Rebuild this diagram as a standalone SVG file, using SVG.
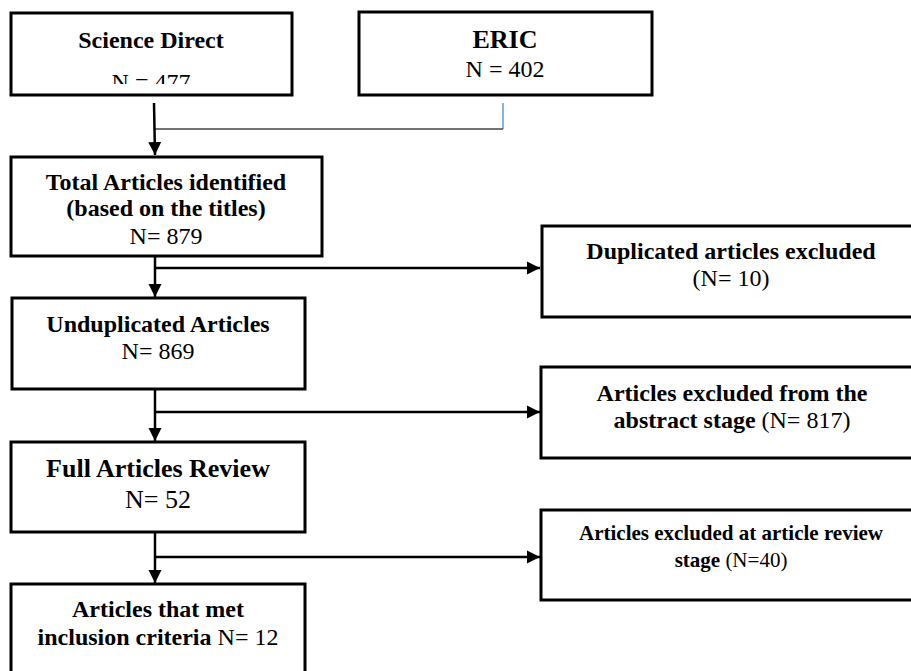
<svg xmlns="http://www.w3.org/2000/svg" width="911" height="671" viewBox="0 0 911 671">
<style>
  .box { fill: #ffffff; stroke: #000000; stroke-width: 3; }
  .t { font-family: "Liberation Serif", "Times New Roman", serif; font-size: 24px; fill: #000000; text-anchor: middle; }
  .b { font-weight: bold; }
  .n { font-weight: normal; }
  .conn { fill: none; stroke: #000000; stroke-width: 2.5; }
</style>
<defs>
  <marker id="arr" viewBox="0 0 10 10" refX="10" refY="5" markerWidth="5.2" markerHeight="6" markerUnits="strokeWidth" orient="auto">
    <path d="M0,0 L10,5 L0,10 z" fill="#000000"/>
  </marker>
  <clipPath id="clipSD"><rect x="10" y="12" width="282" height="72"/></clipPath>
</defs>
<rect width="911" height="671" fill="#ffffff"/>

<g id="connectors">
  <line x1="503" y1="103" x2="503" y2="129" stroke="#5b9bd5" stroke-width="1.5"/>
  <line x1="155" y1="129" x2="503" y2="129" stroke="#444444" stroke-width="1.5"/>
  <line class="conn" x1="154" y1="103" x2="155" y2="155" marker-end="url(#arr)"/>
  <line class="conn" x1="155" y1="257" x2="155" y2="297" marker-end="url(#arr)"/>
  <line class="conn" x1="155" y1="268" x2="540" y2="268" marker-end="url(#arr)"/>
  <line class="conn" x1="155" y1="390" x2="155" y2="441" marker-end="url(#arr)"/>
  <line class="conn" x1="155" y1="412" x2="540" y2="412" marker-end="url(#arr)"/>
  <line class="conn" x1="155" y1="533" x2="155" y2="583" marker-end="url(#arr)"/>
  <line class="conn" x1="155" y1="557" x2="540" y2="557" marker-end="url(#arr)"/>
</g>

<g id="science-direct">
  <rect class="box" x="11" y="13" width="281" height="82"/>
  <text class="t b" x="151" y="48">Science Direct</text>
  <text class="t n" x="151" y="90" clip-path="url(#clipSD)">N = 477</text>
</g>

<g id="eric">
  <rect class="box" x="359" y="12" width="293" height="83"/>
  <text class="t b" x="505" y="48" style="font-size:26px">ERIC</text>
  <text class="t n" x="505" y="77">N = 402</text>
</g>

<g id="total">
  <rect class="box" x="11" y="157" width="311" height="99"/>
  <text class="t b" x="166" y="190">Total Articles identified</text>
  <text class="t b" x="166" y="216">(based on the titles)</text>
  <text class="t n" x="166" y="244">N= 879</text>
</g>

<g id="duplicated">
  <rect class="box" x="542" y="226" width="390" height="91"/>
  <text class="t b" x="731" y="259">Duplicated articles excluded</text>
  <text class="t n" x="731" y="286">(N= 10)</text>
</g>

<g id="unduplicated">
  <rect class="box" x="12" y="298" width="293" height="91"/>
  <text class="t b" x="158" y="332">Unduplicated Articles</text>
  <text class="t n" x="158" y="359">N= 869</text>
</g>

<g id="abstract-excluded">
  <rect class="box" x="541" y="367" width="390" height="91"/>
  <text class="t b" x="732" y="401">Articles excluded from the</text>
  <text class="t" x="732" y="428"><tspan class="b">abstract stage</tspan> <tspan class="n">(N= 817)</tspan></text>
</g>

<g id="full-review">
  <rect class="box" x="11" y="442" width="294" height="90"/>
  <text class="t b" x="158" y="477" style="font-size:26px">Full Articles Review</text>
  <text class="t n" x="158" y="508" style="font-size:26px">N= 52</text>
</g>

<g id="review-excluded">
  <rect class="box" x="541" y="510" width="390" height="90"/>
  <text class="t b" x="731" y="540" style="font-size:21px">Articles excluded at article review</text>
  <text class="t" x="731" y="567" style="font-size:21px"><tspan class="b">stage</tspan> <tspan class="n">(N=40)</tspan></text>
</g>

<g id="included">
  <rect class="box" x="11" y="584" width="294" height="100"/>
  <text class="t b" x="158" y="617">Articles that met</text>
  <text class="t" x="158" y="645"><tspan class="b">inclusion criteria</tspan> <tspan class="n">N= 12</tspan></text>
</g>
</svg>
